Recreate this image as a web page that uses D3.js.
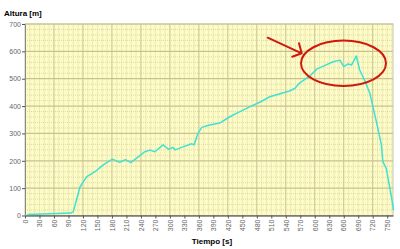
<!DOCTYPE html>
<html>
<head>
<meta charset="utf-8">
<script src="https://cdn.jsdelivr.net/npm/d3@7"></script>
<style>
  body { margin: 0; background: #fff; }
  svg { display: block; }
</style>
</head>
<body>
<div id="chart"></div>
<script>
// Altura vs tiempo
const tiempo = [5, 50, 95, 100, 114, 128, 145, 162, 181, 196, 208, 219, 235, 248, 259, 269,
  286, 297, 306, 311, 327, 345, 350, 358, 366, 380, 403, 424, 445, 466, 487, 507, 528,
  548, 559, 569, 590, 604, 620, 638, 652, 660, 669, 676, 686, 693, 703, 714, 728, 738,
  741, 748, 755, 761, 763];
const altura = [4, 6, 9, 14, 105, 142, 160, 185, 206, 194, 204, 193, 215, 233, 239, 233,
  258, 242, 249, 240, 251, 262, 258, 300, 322, 330, 338, 361, 380, 398, 415, 434, 445,
  455, 465, 485, 510, 535, 548, 562, 568, 544, 554, 550, 583, 532, 495, 447, 340, 258,
  197, 172, 105, 45, 20];
const xTicks = d3.range(0, 751, 30);
const yTicks = d3.range(0, 701, 100);

const width = 400, height = 249;
const margin = { left: 25, right: 7, top: 24, bottom: 33.5 };

const svg = d3.select('#chart').append('svg')
  .attr('width', width)
  .attr('height', height);

const x = d3.scaleLinear().domain([0, 762]).range([margin.left, width - margin.right]);
const y = d3.scaleLinear().domain([0, 700]).range([height - margin.bottom, margin.top]);

// plot background
svg.append('rect')
  .attr('x', x(0)).attr('y', y(700))
  .attr('width', x(762) - x(0)).attr('height', y(0) - y(700))
  .attr('fill', '#fdfbc6')
  .attr('stroke', '#c8c8b0');

// minor grid (dotted)
const minorX = d3.range(10, 762, 10).filter(d => d % 60 !== 0);
const minorY = d3.range(20, 700, 20).filter(d => d % 100 !== 0);
svg.append('g').selectAll('line').data(minorX).enter().append('line')
  .attr('x1', d => x(d)).attr('x2', d => x(d))
  .attr('y1', y(0)).attr('y2', y(700))
  .attr('stroke', '#d6d2a0').attr('stroke-width', 0.8)
  .attr('stroke-dasharray', '1,1');
svg.append('g').selectAll('line').data(minorY).enter().append('line')
  .attr('x1', x(0)).attr('x2', x(762))
  .attr('y1', d => y(d)).attr('y2', d => y(d))
  .attr('stroke', '#d6d2a0').attr('stroke-width', 0.8)
  .attr('stroke-dasharray', '1,1');

// major grid
svg.append('g').selectAll('line').data(d3.range(60, 762, 60)).enter().append('line')
  .attr('x1', d => x(d)).attr('x2', d => x(d))
  .attr('y1', y(0)).attr('y2', y(700))
  .attr('stroke', '#c9c290').attr('stroke-width', 1);
svg.append('g').selectAll('line').data(yTicks.slice(1)).enter().append('line')
  .attr('x1', x(0)).attr('x2', x(762))
  .attr('y1', d => y(d)).attr('y2', d => y(d))
  .attr('stroke', '#c9c290').attr('stroke-width', 1.2);

// axes
const xAxis = svg.append('g')
  .attr('transform', `translate(0,${y(0)})`)
  .call(d3.axisBottom(x).tickValues(xTicks).tickSize(3).tickSizeOuter(0).tickFormat(d3.format('d')));
xAxis.select('.domain').attr('stroke', '#333');
xAxis.selectAll('.tick line').attr('stroke', '#555');
xAxis.selectAll('text')
  .attr('transform', 'rotate(-90)')
  .attr('text-anchor', 'end')
  .attr('x', -4).attr('y', 0).attr('dy', '0.32em')
  .attr('fill', '#666')
  .style('font-family', 'Liberation Sans, sans-serif')
  .style('font-size', '7px');

const yAxis = svg.append('g')
  .attr('transform', `translate(${x(0)},0)`)
  .call(d3.axisLeft(y).tickValues(yTicks).tickSize(3).tickSizeOuter(0));
yAxis.select('.domain').attr('stroke', '#888');
yAxis.selectAll('.tick line').attr('stroke', '#555');
yAxis.selectAll('text')
  .attr('x', -4)
  .attr('fill', '#666')
  .style('font-family', 'Liberation Sans, sans-serif')
  .style('font-size', '7px');

// the curve
const line = d3.line()
  .x((d, i) => x(tiempo[i]))
  .y(d => y(d));
svg.append('path')
  .datum(altura)
  .attr('d', line)
  .attr('fill', 'none')
  .attr('stroke', '#3fe2d2')
  .attr('stroke-width', 1.5)
  .attr('stroke-linejoin', 'round');

// titles
svg.append('text')
  .attr('x', 4).attr('y', 16)
  .style('font-family', 'Liberation Sans, sans-serif')
  .style('font-size', '8px').style('font-weight', 'bold')
  .text('Altura [m]');
svg.append('text')
  .attr('x', 212).attr('y', 244)
  .attr('text-anchor', 'middle')
  .style('font-family', 'Liberation Sans, sans-serif')
  .style('font-size', '8px').style('font-weight', 'bold')
  .text('Tiempo [s]');

// red annotation (hand drawn ellipse + arrow)
svg.append('ellipse')
  .attr('cx', 343.5).attr('cy', 63.3)
  .attr('rx', 42.5).attr('ry', 22.7)
  .attr('fill', 'none')
  .attr('stroke', '#d0180c').attr('stroke-width', 2);
svg.append('path')
  .attr('d', 'M267.7,37.7 L301.7,53.3 M299,43.3 L301.7,53.3 L292.3,56.7')
  .attr('fill', 'none')
  .attr('stroke', '#d0180c').attr('stroke-width', 2)
  .attr('stroke-linecap', 'round').attr('stroke-linejoin', 'round');
</script>
</body>
</html>
